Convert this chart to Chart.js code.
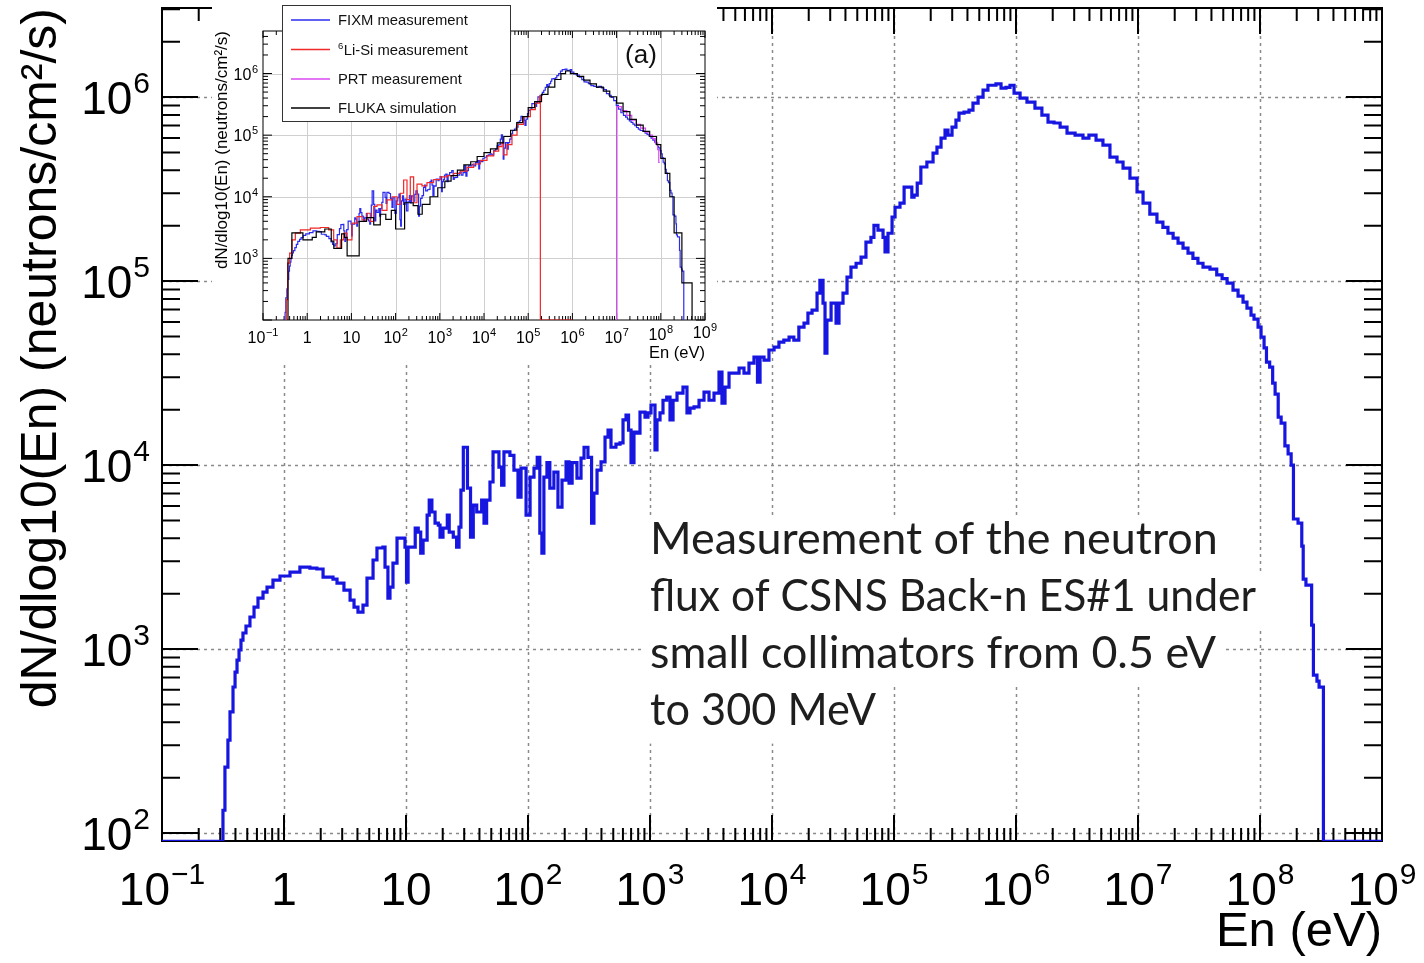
<!DOCTYPE html>
<html>
<head>
<meta charset="utf-8">
<script src="https://cdn.jsdelivr.net/npm/chart.js"></script>
<style>
html,body{margin:0;padding:0;background:#fff;}
#wrap{position:relative;width:1424px;height:963px;overflow:hidden;background:#fff;}
#main{position:absolute;left:0;top:0;}
#inset{position:absolute;left:212px;top:0;background:#fff;}
</style>
</head>
<body>
<div id="wrap">
<canvas id="main" width="1424" height="963"></canvas>
<canvas id="inset" width="505" height="365"></canvas>
</div>
<script>
// ---------------- DATA ----------------
// FIXM measurement (main curve): bin low edges (eV) and dN/dlog10(En)
const fixmEnergy = [0.1,0.316,0.328,0.347,0.361,0.382,0.397,0.412,0.428,0.444,0.461,0.488,0.526,0.568,0.612,0.673,0.726,0.812,0.927,1.12,1.35,1.63,1.86,2.09,2.52,2.72,3.10,3.48,3.75,4.04,4.44,4.79,5.37,5.78,6.47,6.73,7.11,7.39,7.82,8.44,9.81,10.1,10.4,11.9,12.6,13.2,13.8,14.9,15.5,16.3,17.3,18.4,19.0,20.1,21.8,22.6,24.4,26.0,27.2,28.2,29.5,31.9,33.8,35.6,38.0,41.7,43.6,45.8,48.8,51.7,57.8,60.8,63.5,71.1,76.7,82.8,87.7,96.4,104,112,119,125,130,135,143,151,163,176,190,205,217,230,252,272,288,310,332,347,368,397,428,453,479,526,568,601,636,667,699,739,782,828,910,963,1019,1099,1141,1208,1278,1371,1459,1545,1665,1864,2010,2128,2296,2523,2772,3046,3347,3678,3891,4120,4444,5370,5893,6476,7117,7603,7980,8601,9444,10400,11400,12500,13800,15100,16600,18300,19700,21300,23400,24700,26200,27200,28200,30500,33500,35400,38200,41200,44400,48900,53700,58900,64700,68500,73900,81300,84400,89300,96400,102000,112000,121000,140000,146000,155000,166000,186000,209000,225000,243000,262000,277000,299000,322000,341000,375000,412000,444000,489000,537000,589000,685000,754000,828000,893000,964000,1080000,1230000,1430000,1630000,1830000,2050000,2300000,2620000,3050000,3540000,3960000,4530000,5160000,5890000,6730000,7540000,8590000,9820000,11000000,12500000,14300000,16000000,17600000,19400000,21300000,23400000,25700000,28200000,31000000,34100000,38900000,44200000,48900000,53700000,60100000,66100000,72600000,78200000,84400000,89300000,96400000,102000000,108000000,113000000,120000000,127000000,133000000,141000000,149000000,160000000,170000000,180000000,188000000,205000000,220000000,226000000,238000000,265000000,274000000,293000000,305000000,331000000,1000000000];
const fixmFlux = [90,133,228,320,455,622,750,871,988,1119,1222,1334,1493,1691,1893,2041,2173,2371,2494,2619,2790,2756,2723,2462,2400,2284,2093,1846,1691,1589,1734,2432,3048,3541,3583,2790,1893,2173,2931,4011,3583,2312,3583,4546,4325,3323,3909,5349,6451,5556,4838,4720,4060,4546,5349,4325,4060,3583,4603,7311,12500,7499,4060,6063,5556,6451,4838,6451,8091,11800,9750,7787,11800,11300,9392,6699,9630,5349,8603,9630,11000,4270,3323,8603,10300,7499,9163,5912,8287,10400,7983,10300,8498,10900,12500,11000,4838,7047,9392,10400,14200,15500,12500,13000,13200,17600,18700,15500,10300,15100,14900,19400,18200,19200,21200,12100,17600,19200,22500,23400,17600,22500,24600,26500,19200,20400,20700,22500,24900,22500,24600,32000,21700,26500,31600,33700,31600,35800,38600,28200,38600,37200,42200,43800,46600,47800,49600,47800,56200,59100,67000,69500,86000,101000,75900,40600,61400,75900,59100,75900,86000,105000,119000,125000,135000,163000,173000,201000,189000,173000,144000,182000,223000,252000,265000,324000,286000,293000,341000,417000,444000,496000,535000,598000,662000,621000,687000,750000,819000,828000,849000,927000,1000000,1090000,1160000,1180000,1120000,1130000,1160000,1050000,988000,940000,871000,798000,731000,723000,687000,637000,621000,598000,621000,583000,548000,472000,444000,411000,363000,305000,265000,231000,209000,196000,182000,171000,161000,151000,142000,133000,125000,119000,116000,108000,103000,97500,89300,82900,76900,71300,65300,62100,56200,49600,43300,36300,34100,27900,24300,18200,16900,12700,11500,10000,5090,4838,3630,2400,2228,1350,722,670,621,90,90];

// 6Li-Si measurement (inset, red)
const liSiEnergy = [0.32,0.337,0.361,0.401,0.453,0.539,0.70,1.18,1.98,3.06,3.97,4.72,5.62,6.69,7.95,10.3,13.4,17.4,22.5,26.8,31.9,37.9,49.2,63.8,82.9,108,128,152,181,215,256,305,395,513,726,1028,1455,2060,2917,4121,5834,8260,11690,16560,21480,25540,27860,33110,42950,55850,78890,111700,144900,181600,188400,1000000];
const liSiFlux = [100,214,840,1220,2000,2570,2900,3100,3170,2900,2000,1470,2000,2570,2000,3730,4770,4200,5400,4000,7000,7400,6000,8900,10000,7500,11400,18700,9000,21000,8000,16000,15000,17000,19000,21000,22000,24000,26000,30000,34000,39000,46000,55000,65000,75000,48000,70000,100000,150000,200000,260000,330000,430000,100,100];

// PRT measurement (inset, magenta)
const prtEnergy = [1.0e7,1.0e7,1.3e7,1.7e7,2.2e7,2.8e7,3.5e7,4.5e7,5.5e7,6.5e7,7.5e7,8.5e7,9.0e7,9.5e7];
const prtFlux = [100,290000,250000,210000,175000,150000,130000,112000,100000,88000,75000,58000,36000,36000];

// FLUKA simulation (inset, black)
const flukaEnergy = [0.368,0.368,0.45,0.63,0.8,1.3,1.6,2.5,3.5,4.0,6.0,7.0,8.0,15,22,32,45,60,80,100,160,250,320,400,600,900,1300,1800,2500,3500,5000,7000,10000,14000,20000,28000,40000,55000,75000,100000,140000,200000,280000,400000,550000,700000,900000,1300000,1800000,2500000,3500000,5000000,7000000,10000000,14000000,20000000,28000000,40000000,56000000,80000000,100000000,126000000,160000000,200000000,300000000,510000000];
const flukaFlux = [100,1000,2600,2600,2000,2200,2700,3000,1900,1450,2500,2200,1100,4000,4600,3500,5200,4300,6000,3000,8000,7200,5200,7500,10000,14000,18000,22000,27000,33000,37000,45000,52000,60000,75000,95000,120000,160000,200000,280000,350000,460000,600000,800000,1000000,1100000,1000000,900000,780000,680000,600000,520000,420000,330000,240000,180000,145000,115000,95000,70000,42000,24000,10000,2600,400,100];

// Tick labels
const xTickValues = [1e-1,1,10,1e2,1e3,1e4,1e5,1e6,1e7,1e8,1e9];
const xTickLabels = ['10\u207B\u00B9','1','10','10\u00B2','10\u00B3','10\u2074','10\u2075','10\u2076','10\u2077','10\u2078','10\u2079'];
const yTickValues = [1e2,1e3,1e4,1e5,1e6];
const yTickLabels = ['10\u00B2','10\u00B3','10\u2074','10\u2075','10\u2076'];
const insetYTickValues = [1e3,1e4,1e5,1e6];
const insetYTickLabels = ['10\u00B3','10\u2074','10\u2075','10\u2076'];

// Texts
const yTitle = 'dN/dlog10(En) (neutrons/cm\u00B2/s)';
const xTitle = 'En (eV)';
const seriesNames = ['FIXM measurement','\u2076Li-Si measurement','PRT measurement','FLUKA simulation'];
const noteLines = ['Measurement of the neutron','flux of CSNS Back-n ES#1 under','small collimators from 0.5 eV','to 300 MeV'];
const panelTag = '(a)';

// ---------------- HELPERS ----------------
const FONT = '"Liberation Sans", Arial, Helvetica, sans-serif';
const pairs = (xs, ys) => xs.map((x, i) => ({x: x, y: ys[i]}));
const SUP = {'\u2070':'0','\u00B9':'1','\u00B2':'2','\u00B3':'3','\u2074':'4','\u2075':'5','\u2076':'6','\u2077':'7','\u2078':'8','\u2079':'9','\u207B':'\u2212'};

function splitLabel(s) {
  let base = '', exp = '';
  for (const ch of s) { if (SUP[ch]) exp += SUP[ch]; else base += ch; }
  return {base: base, exp: exp};
}

function drawPow(ctx, s, x, baseline, align, st) {
  const p = splitLabel(s);
  ctx.font = st.size + 'px ' + FONT;
  const wb = ctx.measureText(p.base).width;
  ctx.font = st.sup + 'px ' + FONT;
  const we = p.exp ? ctx.measureText(p.exp).width + st.gap : 0;
  const tot = wb + we;
  const left = align === 'center' ? x - tot / 2 : (align === 'right' ? x - tot : x);
  ctx.textAlign = 'left'; ctx.textBaseline = 'alphabetic'; ctx.fillStyle = '#000';
  ctx.font = st.size + 'px ' + FONT;
  ctx.fillText(p.base, left, baseline);
  if (p.exp) {
    ctx.font = st.sup + 'px ' + FONT;
    ctx.fillText(p.exp, left + wb + st.gap, baseline - st.raise);
  }
}

function logTicks(min, max) {
  const out = [];
  for (let e = Math.floor(Math.log10(min)) - 1; e <= Math.ceil(Math.log10(max)); e++) {
    for (let k = 1; k <= 9; k++) {
      const v = k * Math.pow(10, e);
      if (v >= min * 0.9999 && v <= max * 1.0001) out.push({v: v, major: k === 1});
    }
  }
  return out;
}

function zeroPad(s) { s.paddingTop = 0; s.paddingBottom = 0; s.paddingLeft = 0; s.paddingRight = 0; }

function rootAxes(id, st) {
  return {
    id: id,
    beforeDatasetsDraw(chart) {
      const ctx = chart.ctx, a = chart.chartArea;
      const xs = chart.scales.x, ys = chart.scales.y;
      ctx.save();
      ctx.strokeStyle = st.gridColor; ctx.lineWidth = st.gridWidth; ctx.setLineDash(st.gridDash);
      ctx.beginPath();
      xs.ticks.forEach(t => {
        const p = Math.round(xs.getPixelForValue(t.value)) + 0.5;
        if (p > a.left + 3 && p < a.right - 3) { ctx.moveTo(p, a.top); ctx.lineTo(p, a.bottom); }
      });
      logTicks(ys.min, ys.max).filter(t => t.major).forEach(t => {
        const p = Math.round(ys.getPixelForValue(t.v)) + 0.5;
        if (p > a.top + 3 && p < a.bottom - 3) { ctx.moveTo(a.left, p); ctx.lineTo(a.right, p); }
      });
      ctx.stroke();
      ctx.setLineDash([]);
      ctx.strokeStyle = '#000'; ctx.lineWidth = st.tickWidth;
      ctx.beginPath();
      logTicks(xs.min, xs.max).forEach(t => {
        const p = xs.getPixelForValue(t.v);
        const L = t.major ? st.xMajor : st.xMinor;
        ctx.moveTo(p, a.bottom); ctx.lineTo(p, a.bottom - L);
        ctx.moveTo(p, a.top); ctx.lineTo(p, a.top + L);
      });
      logTicks(ys.min, ys.max).forEach(t => {
        const p = ys.getPixelForValue(t.v);
        const L = t.major ? st.yMajor : st.yMinor;
        ctx.moveTo(a.left, p); ctx.lineTo(a.left + L, p);
        ctx.moveTo(a.right, p); ctx.lineTo(a.right - L, p);
      });
      ctx.stroke();
      ctx.lineWidth = st.frameWidth;
      ctx.strokeRect(a.left, a.top, a.right - a.left, a.bottom - a.top);
      ctx.restore();
    },
    afterDraw(chart) {
      const ctx = chart.ctx, a = chart.chartArea;
      const xs = chart.scales.x, ys = chart.scales.y;
      ctx.save();
      xs.ticks.forEach((t, i) => {
        const lift = (st.xLift && st.xLift[i]) || 0;
        drawPow(ctx, st.xLabels[i], xs.getPixelForValue(t.value), a.bottom + st.xLabelDrop - lift, 'center', st.lab);
      });
      ys.ticks.forEach((t, i) => {
        drawPow(ctx, st.yLabels[i], a.left - st.yLabelGap, ys.getPixelForValue(t.value) + st.yLabelShift, 'right', st.lab);
      });
      ctx.restore();
    }
  };
}

const notePlugin = {
  id: 'note',
  afterDraw(chart) {
    const ctx = chart.ctx;
    const xs = chart.scales.x, ys = chart.scales.y;
    const x0 = xs.getPixelForValue(1e3);
    const base0 = ys.getPixelForValue(3.3e3);
    const targetW = [568, 606, 566, 226];
    ctx.save();
    let size = 44;
    ctx.font = size + 'px Lato, "Open Sans", sans-serif';
    const w0 = ctx.measureText(noteLines[0]).width;
    size = size * 568 / w0;
    ctx.font = size + 'px Lato, "Open Sans", sans-serif';
    const lh = 57;
    noteLines.forEach((s, i) => {
      const b = base0 + i * lh;
      const w = Math.min(ctx.measureText(s).width, targetW[i]);
      ctx.fillStyle = '#fff';
      ctx.fillRect(x0 - 5, b - 38, w + 12, lh);
    });
    ctx.fillStyle = '#1e1e1e';
    ctx.textBaseline = 'alphabetic';
    noteLines.forEach((s, i) => ctx.fillText(s, x0, base0 + i * lh, targetW[i]));
    ctx.restore();
  }
};

// ---------------- MAIN CHART ----------------
new Chart(document.getElementById('main'), {
  type: 'line',
  data: {
    datasets: [{
      label: seriesNames[0],
      data: pairs(fixmEnergy, fixmFlux),
      borderColor: '#1616e0',
      borderWidth: 3.2,
      stepped: true,
      pointRadius: 0,
      fill: false
    }]
  },
  options: {
    responsive: false,
    animation: false,
    events: [],
    layout: {padding: {left: 0, top: 8, right: 42, bottom: 0}},
    plugins: {legend: {display: false}, tooltip: {enabled: false}},
    scales: {
      x: {
        type: 'logarithmic', min: 0.1, max: 1e9,
        grid: {display: false}, border: {display: false},
        afterBuildTicks: s => { s.ticks = xTickValues.map(v => ({value: v})); },
        afterFit: s => { s.height = 122; zeroPad(s); },
        ticks: {display: false, autoSkip: false, callback: (v, i) => xTickLabels[i]},
        title: {display: true, text: xTitle, align: 'end', color: '#000',
                font: {family: FONT, size: 49}, padding: {top: 0, bottom: 1}}
      },
      y: {
        type: 'logarithmic', min: 90.5, max: 3.05e6,
        grid: {display: false}, border: {display: false},
        afterBuildTicks: s => { s.ticks = yTickValues.map(v => ({value: v})); },
        afterFit: s => { s.width = 162; zeroPad(s); },
        ticks: {display: false, autoSkip: false, callback: (v, i) => yTickLabels[i]},
        title: {display: true, text: yTitle, align: 'end', color: '#000',
                font: {family: FONT, size: 50}, padding: {top: 12, bottom: 0}}
      }
    }
  },
  plugins: [rootAxes('mainAxes', {gridColor: '#8a8a8a', gridWidth: 1.5, gridDash: [3, 4],
    tickWidth: 2, frameWidth: 2, xMajor: 26, xMinor: 13, yMajor: 36, yMinor: 18,
    xLabels: xTickLabels, yLabels: yTickLabels, xLabelDrop: 64, yLabelGap: 12, yLabelShift: 17,
    lab: {size: 46, sup: 30, raise: 21, gap: 1}}), notePlugin]
});

// ---------------- INSET CHART ----------------
const insetColors = ['#2b2bf0', '#f02828', '#d848f0', '#000000'];
const insetLegend = {
  id: 'insetLegend',
  afterDraw(chart) {
    const ctx = chart.ctx;
    ctx.save();
    ctx.fillStyle = '#fff';
    ctx.fillRect(70, 5, 228, 116);
    ctx.strokeStyle = '#333'; ctx.lineWidth = 1;
    ctx.strokeRect(70.5, 5.5, 228, 116);
    ctx.textBaseline = 'middle';
    const rows = [20, 49.5, 79, 108];
    seriesNames.forEach((name, i) => {
      ctx.strokeStyle = insetColors[i]; ctx.lineWidth = 1.3;
      ctx.beginPath(); ctx.moveTo(79, rows[i]); ctx.lineTo(118, rows[i]); ctx.stroke();
      ctx.fillStyle = '#111';
      if (i === 1) {
        const p = splitLabel(name.charAt(0));
        ctx.font = '9.5px ' + FONT;
        ctx.fillText(p.exp, 126, rows[i] - 3);
        const w = ctx.measureText(p.exp).width;
        ctx.font = '14.8px ' + FONT;
        ctx.fillText(name.slice(1), 126 + w + 0.5, rows[i] + 1);
      } else {
        ctx.font = '14.8px ' + FONT;
        ctx.fillText(name, 126, rows[i] + 1);
      }
    });
    ctx.font = '26px ' + FONT;
    ctx.textAlign = 'center';
    ctx.fillStyle = '#111';
    ctx.fillText(panelTag, 429, 56);
    ctx.restore();
  }
};

new Chart(document.getElementById('inset'), {
  type: 'line',
  data: {
    datasets: [
      {label: seriesNames[0], data: pairs(fixmEnergy, fixmFlux), borderColor: insetColors[0], borderWidth: 1.2, stepped: true, pointRadius: 0, fill: false, order: 3},
      {label: seriesNames[1], data: pairs(liSiEnergy, liSiFlux), borderColor: insetColors[1], borderWidth: 1.2, stepped: true, pointRadius: 0, fill: false, order: 1},
      {label: seriesNames[2], data: pairs(prtEnergy, prtFlux), borderColor: insetColors[2], borderWidth: 1.2, stepped: true, pointRadius: 0, fill: false, order: 2},
      {label: seriesNames[3], data: pairs(flukaEnergy, flukaFlux), borderColor: insetColors[3], borderWidth: 1.2, stepped: true, pointRadius: 0, fill: false, order: 0}
    ]
  },
  options: {
    responsive: false,
    animation: false,
    events: [],
    layout: {padding: {left: 0, top: 31, right: 12, bottom: 0}},
    plugins: {legend: {display: false}, tooltip: {enabled: false}},
    scales: {
      x: {
        type: 'logarithmic', min: 0.1, max: 1e9,
        grid: {display: false}, border: {display: false},
        afterBuildTicks: s => { s.ticks = xTickValues.map(v => ({value: v})); },
        afterFit: s => { s.height = 45; zeroPad(s); },
        ticks: {display: false, autoSkip: false, callback: (v, i) => xTickLabels[i]},
        title: {display: true, text: xTitle, align: 'end', color: '#000',
                font: {family: FONT, size: 16.5}, padding: {top: 0, bottom: 2}}
      },
      y: {
        type: 'logarithmic', min: 100, max: 4.9e6,
        grid: {display: false}, border: {display: false},
        afterBuildTicks: s => { s.ticks = insetYTickValues.map(v => ({value: v})); },
        afterFit: s => { s.width = 51; zeroPad(s); },
        ticks: {display: false, autoSkip: false, callback: (v, i) => insetYTickLabels[i]},
        title: {display: true, text: yTitle, align: 'end', color: '#000',
                font: {family: FONT, size: 17}, padding: {top: 0, bottom: 0}}
      }
    }
  },
  plugins: [rootAxes('insetAxes', {gridColor: '#cfcfcf', gridWidth: 1, gridDash: [],
    tickWidth: 1, frameWidth: 1, xMajor: 7, xMinor: 4, yMajor: 9, yMinor: 5,
    xLabels: xTickLabels, yLabels: insetYTickLabels, xLabelDrop: 23, yLabelGap: 5, yLabelShift: 6,
    xLift: [0,0,0,0,0,0,0,0,0,3,5],
    lab: {size: 16, sup: 11, raise: 7, gap: 0.5}}), insetLegend]
});
</script>
</body>
</html>
